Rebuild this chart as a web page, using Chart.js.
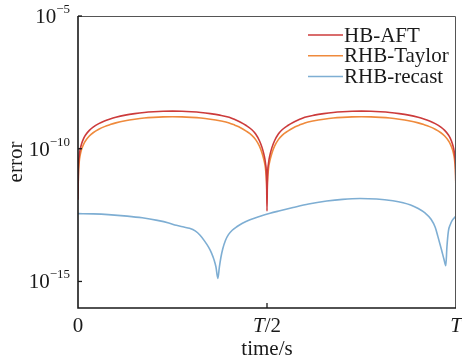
<!DOCTYPE html>
<html>
<head>
<meta charset="utf-8">
<script src="https://cdn.jsdelivr.net/npm/chart.js@4/dist/chart.umd.min.js"></script>
<style>
html,body{margin:0;padding:0;background:#fff;}
#wrap{width:462px;height:363px;}
</style>
</head>
<body>
<div id="wrap"><canvas id="c" width="462" height="363"></canvas></div>
<script>
// ---- data ----
const timeValues = [0, 0.001, 0.003, 0.006, 0.01, 0.015, 0.02, 0.03, 0.04, 0.055, 0.07, 0.085, 0.1, 0.125, 0.15, 0.175, 0.2, 0.225, 0.25,
  0.275, 0.3, 0.325, 0.35, 0.375, 0.4, 0.415, 0.43, 0.445, 0.46, 0.47, 0.48, 0.487, 0.492, 0.496, 0.499, 0.5,
  0.501, 0.504, 0.508, 0.513, 0.52, 0.53, 0.54, 0.555, 0.57, 0.585, 0.6, 0.625, 0.65, 0.675, 0.7, 0.725, 0.75,
  0.775, 0.8, 0.825, 0.85, 0.875, 0.9, 0.915, 0.93, 0.945, 0.96, 0.97, 0.98, 0.985, 0.99, 0.994, 0.997, 0.999, 1];
const hbAft = [1.2e-12, 1.6e-11, 4.9e-11, 9.8e-11, 1.6e-10, 2.45e-10, 3.3e-10, 4.9e-10, 6.5e-10, 8.8e-10, 1.1e-9, 1.32e-9, 1.53e-9, 1.84e-9, 2.1e-9, 2.32e-9, 2.47e-9, 2.57e-9, 2.6e-9,
  2.57e-9, 2.47e-9, 2.32e-9, 2.1e-9, 1.84e-9, 1.53e-9, 1.25e-9, 1.0e-9, 7.5e-10, 5.2e-10, 3.6e-10, 2.0e-10, 1.1e-10, 6.0e-11, 2.8e-11, 6.0e-12, 4.5e-13,
  6.0e-12, 2.8e-11, 6.0e-11, 1.1e-10, 2.0e-10, 3.6e-10, 5.2e-10, 7.5e-10, 1.0e-9, 1.25e-9, 1.53e-9, 1.84e-9, 2.1e-9, 2.32e-9, 2.47e-9, 2.57e-9, 2.6e-9,
  2.57e-9, 2.47e-9, 2.32e-9, 2.1e-9, 1.84e-9, 1.53e-9, 1.32e-9, 1.1e-9, 8.8e-10, 6.5e-10, 4.9e-10, 3.3e-10, 2.45e-10, 1.6e-10, 9.8e-11, 4.9e-11, 1.6e-11, 1.2e-12];
const rhbTaylor = [2.0e-12, 1.0e-11, 3.0e-11, 6.0e-11, 1.0e-10, 1.5e-10, 2.0e-10, 3.0e-10, 4.0e-10, 5.4e-10, 6.8e-10, 8.1e-10, 9.4e-10, 1.13e-9, 1.29e-9, 1.43e-9, 1.52e-9, 1.58e-9, 1.6e-9,
  1.58e-9, 1.52e-9, 1.43e-9, 1.29e-9, 1.13e-9, 9.4e-10, 7.7e-10, 6.2e-10, 4.6e-10, 3.2e-10, 2.2e-10, 1.25e-10, 6.8e-11, 3.7e-11, 1.8e-11, 5.0e-12, 1.7e-12,
  5.0e-12, 1.8e-11, 3.7e-11, 6.8e-11, 1.25e-10, 2.2e-10, 3.2e-10, 4.6e-10, 6.2e-10, 7.7e-10, 9.4e-10, 1.13e-9, 1.29e-9, 1.43e-9, 1.52e-9, 1.58e-9, 1.6e-9,
  1.58e-9, 1.52e-9, 1.43e-9, 1.29e-9, 1.13e-9, 9.4e-10, 8.1e-10, 6.8e-10, 5.4e-10, 4.0e-10, 3.0e-10, 2.0e-10, 1.5e-10, 1.0e-10, 6.0e-11, 3.0e-11, 1.0e-11, 2.0e-12];
const timeRecast = [0, 0.04, 0.08, 0.13, 0.17, 0.21, 0.24, 0.26, 0.28, 0.295, 0.31, 0.323, 0.335, 0.345, 0.353, 0.36, 0.365, 0.37, 0.374, 0.378, 0.383, 0.39, 0.398, 0.408, 0.42, 0.435, 0.455, 0.48, 0.508, 0.534, 0.569, 0.61, 0.658, 0.7, 0.746, 0.79, 0.833, 0.86, 0.88, 0.9, 0.918, 0.934, 0.945, 0.952, 0.962, 0.968, 0.973, 0.976, 0.98, 0.985, 0.99, 1];
const rhbRecast = [3.6e-13, 3.5e-13, 3.3e-13, 2.9e-13, 2.5e-13, 2.0e-13, 1.6e-13, 1.3e-13, 1.12e-13, 1.0e-13, 8.0e-14, 5.5e-14, 3.3e-14, 2.0e-14, 1.2e-14, 6.5e-15, 3.5e-15, 1.3e-15, 3.5e-15, 8.0e-15, 1.7e-14, 3.5e-14, 5.8e-14, 8.5e-14, 1.15e-13, 1.55e-13, 2.1e-13, 2.8e-13, 3.7e-13, 4.6e-13, 6.1e-13, 8.3e-13, 1.07e-12, 1.24e-12, 1.33e-12, 1.28e-12, 1.1e-12, 9.3e-13, 7.6e-13, 5.6e-13, 3.8e-13, 2.2e-13, 1.1e-13, 5.0e-14, 1.5e-14, 7.0e-15, 3.9e-15, 2.0e-14, 8.0e-14, 1.4e-13, 2.0e-13, 2.9e-13];
const seriesNames = ['HB-AFT', 'RHB-Taylor', 'RHB-recast'];
const seriesColors = ['#cc3b3b', '#ef8a3c', '#7eaed3'];
const yTickValues = [1e-5, 1e-10, 1e-15];
const yTickExponents = ['\u22125', '\u221210', '\u221215'];
const xTickValues = [0, 0.5, 1];
const xTickLabels = ['0', 'T/2', 'T'];
const xTitle = 'time/s';
const yTitle = 'error';

const pts = (xs, ys) => xs.map((x, i) => ({x: x, y: ys[i]}));
const FONT = '"Liberation Serif", "Times New Roman", serif';

const decor = {
  id: 'decor',
  afterDraw(chart) {
    const ctx = chart.ctx, a = chart.chartArea;
    const xs = chart.scales.x, ys = chart.scales.y;
    ctx.save();
    // frame
    ctx.strokeStyle = '#555'; ctx.lineWidth = 1;
    ctx.beginPath(); ctx.moveTo(a.left, a.top + 0.5); ctx.lineTo(a.right - 0.5, a.top + 0.5); ctx.lineTo(a.right - 0.5, a.bottom); ctx.stroke();
    ctx.strokeStyle = '#1a1a1a'; ctx.lineWidth = 1.6;
    ctx.beginPath(); ctx.moveTo(a.left, a.top); ctx.lineTo(a.left, a.bottom); ctx.lineTo(a.right, a.bottom); ctx.stroke();
    // y ticks
    ctx.fillStyle = '#1a1a1a'; ctx.lineWidth = 1.3;
    yTickValues.forEach((v, i) => {
      const py = ys.getPixelForValue(v);
      ctx.beginPath(); ctx.moveTo(a.left, py); ctx.lineTo(a.left + 4, py); ctx.stroke();
      ctx.font = '13px ' + FONT; ctx.textBaseline = 'alphabetic'; ctx.textAlign = 'right';
      const ew = ctx.measureText(yTickExponents[i]).width;
      ctx.fillText(yTickExponents[i], a.left - 8, py - 3);
      ctx.font = '21px ' + FONT;
      ctx.fillText('10', a.left - 8 - ew, py + 7);
    });
    // x ticks
    xTickValues.forEach((v, i) => {
      const px = xs.getPixelForValue(v);
      if (v > 0 && v < 1) { ctx.beginPath(); ctx.moveTo(px, a.bottom); ctx.lineTo(px, a.bottom - 5); ctx.stroke(); }
      const lab = xTickLabels[i];
      ctx.textBaseline = 'alphabetic';
      const base = a.bottom + 24;
      if (lab.startsWith('T')) {
        ctx.font = 'italic 21px ' + FONT;
        const w1 = ctx.measureText('T').width;
        ctx.font = '21px ' + FONT;
        const rest = lab.slice(1);
        const w2 = ctx.measureText(rest).width;
        let x0 = px - (w1 + w2) / 2;
        ctx.textAlign = 'left';
        ctx.font = 'italic 21px ' + FONT; ctx.fillText('T', x0, base);
        ctx.font = '21px ' + FONT; ctx.fillText(rest, x0 + w1, base);
      } else {
        ctx.textAlign = 'center'; ctx.font = '21px ' + FONT; ctx.fillText(lab, px, base);
      }
    });
    // titles
    ctx.font = '21px ' + FONT; ctx.textAlign = 'center';
    ctx.fillText(xTitle, (a.left + a.right) / 2, a.bottom + 47);
    ctx.save();
    ctx.translate(22, (a.top + a.bottom) / 2); ctx.rotate(-Math.PI / 2);
    ctx.textBaseline = 'alphabetic'; ctx.fillText(yTitle, 0, 0);
    ctx.restore();
    // legend
    ctx.font = '21px ' + FONT; ctx.textAlign = 'left'; ctx.textBaseline = 'middle';
    chart.data.datasets.forEach((ds, i) => {
      const ly = 35 + i * 20.7;
      ctx.strokeStyle = ds.borderColor; ctx.lineWidth = 1.5;
      ctx.beginPath(); ctx.moveTo(308, ly); ctx.lineTo(343, ly); ctx.stroke();
      ctx.fillStyle = '#1a1a1a';
      ctx.fillText(ds.label, 344, ly + 1);
    });
    ctx.restore();
  }
};

new Chart(document.getElementById('c'), {
  type: 'line',
  data: {
    datasets: [
      {label: seriesNames[0], data: pts(timeValues, hbAft), borderColor: seriesColors[0]},
      {label: seriesNames[1], data: pts(timeValues, rhbTaylor), borderColor: seriesColors[1]},
      {label: seriesNames[2], data: pts(timeRecast, rhbRecast), borderColor: seriesColors[2]}
    ]
  },
  options: {
    responsive: false,
    animation: false,
    devicePixelRatio: 1,
    layout: {padding: {left: 78, right: 6, top: 16, bottom: 55}},
    elements: {
      point: {radius: 0},
      line: {borderWidth: 1.6, cubicInterpolationMode: 'monotone', fill: false}
    },
    plugins: {legend: {display: false}, tooltip: {enabled: false}},
    scales: {
      x: {type: 'linear', min: 0, max: 1, display: false},
      y: {type: 'logarithmic', min: 1e-16, max: 1e-5, display: false}
    }
  },
  plugins: [decor]
});
</script>
</body>
</html>
